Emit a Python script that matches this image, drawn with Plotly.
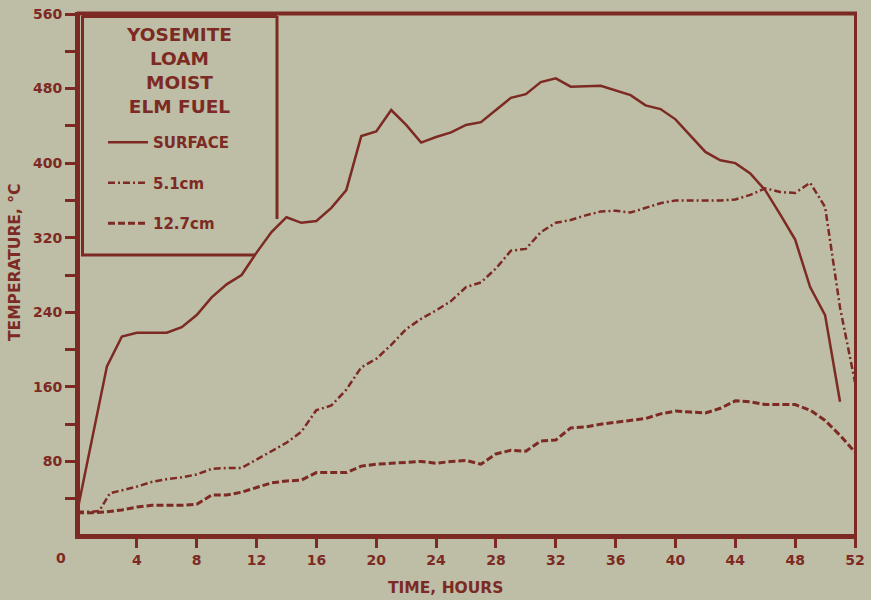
import plotly.graph_objects as go

# Temperature records (deg C) by elapsed time (hours)
surface_hours = [0, 2, 3, 4, 6, 7, 8, 9, 10, 11, 12, 13, 14, 15, 16, 17, 18, 19, 20,
                 21, 22, 23, 24, 25, 26, 27, 28, 29, 30, 31, 32, 33, 35, 36, 37, 38,
                 39, 40, 41, 42, 43, 44, 45, 46, 47, 48, 49, 50, 51]
surface_temp = [25, 182, 214, 218, 218, 224, 237, 256, 270, 280, 304, 326, 342, 336, 338,
                352, 371, 429, 434, 457, 441, 422, 428, 433, 441, 444, 457, 470, 474, 487,
                491, 482, 483, 478, 473, 462, 458, 447, 429, 412, 403, 400, 389, 371, 345,
                318, 267, 237, 144]

depth51_hours = [0, 1, 1.5, 2.2, 3, 4, 5, 6, 7, 8, 9, 10, 11, 12, 13, 14, 15, 16, 17, 18,
                 19, 20, 21, 22, 23, 24, 25, 26, 27, 28, 29, 30, 31, 32, 33, 34, 35, 36,
                 37, 38, 39, 40, 41, 42, 43, 44, 45, 46, 47, 48, 49, 50, 51, 52]
depth51_temp = [26, 26, 27, 46, 49, 53, 58, 61, 63, 66, 72, 73, 73, 82, 91, 100, 112, 135,
                140, 157, 181, 190, 205, 222, 233, 242, 252, 267, 272, 287, 306, 308, 326,
                336, 339, 344, 348, 349, 347, 352, 357, 360, 360, 360, 360, 361, 366, 373,
                369, 368, 379, 353, 245, 165]

depth127_hours = list(range(0, 53))
depth127_temp = [25, 25, 26, 28, 31, 33, 33, 33, 34, 44, 44, 47, 52, 57, 59, 60, 68, 68,
                 68, 75, 77, 78, 79, 80, 78, 80, 81, 77, 88, 92, 91, 102, 103, 116, 117,
                 120, 122, 124, 126, 131, 134, 133, 132, 137, 145, 144, 141, 141, 141, 135,
                 124, 108, 90]

x_tick_vals = [4, 8, 12, 16, 20, 24, 28, 32, 36, 40, 44, 48, 52]
y_tick_vals = [40, 80, 120, 160, 200, 240, 280, 320, 360, 400, 440, 480, 520, 560]
y_tick_text = ["", "80", "", "160", "", "240", "", "320", "", "400", "", "480", "", "560"]

INK = "#7c2a23"
PAPER = "#bebda5"
FONT = "DejaVu Sans"

# plot-area geometry in pixels
W, H = 871, 600
L, T, R, B = 77, 14, 16, 64
PW, PH = W - L - R, H - T - B


def fx(px):
    return (px - L) / PW


def fy(py):
    return (T + PH - py) / PH


fig = go.Figure()

fig.add_trace(go.Scatter(
    x=surface_hours, y=surface_temp, mode="lines", name="SURFACE",
    legendgroup="a", line=dict(color=INK, width=2.5)))
fig.add_trace(go.Scatter(
    x=depth51_hours, y=depth51_temp, mode="lines", name="5.1cm",
    legendgroup="b", line=dict(color=INK, width=2.5, dash="7px,3px,2px,3px")))
fig.add_trace(go.Scatter(
    x=depth127_hours, y=depth127_temp, mode="lines", name="12.7cm",
    legendgroup="c", line=dict(color=INK, width=3, dash="7px,3px")))


def seg(x0, y0, x1, y1, w):
    return dict(type="line", xref="paper", yref="paper",
                x0=fx(x0), y0=fy(y0), x1=fx(x1), y1=fy(y1),
                line=dict(color=INK, width=w), layer="above")


shapes = [
    # frame
    seg(77, 13.5, 857, 13.5, 4),
    seg(855.5, 13, 855.5, 538, 3),
    seg(77.5, 12, 77.5, 539, 5),
    seg(75, 536.5, 857, 536.5, 5),
    # key box (open at the lower right corner)
    seg(82, 16.5, 277, 16.5, 3),
    seg(82.5, 16, 82.5, 256, 3),
    seg(277, 16, 277, 219, 3),
    seg(81, 255, 255, 255, 3),
]

annotations = [
    dict(text="YOSEMITE<br>LOAM<br>MOIST<br>ELM FUEL", x=fx(179), y=fy(70),
         xref="paper", yref="paper", showarrow=False, xanchor="center",
         yanchor="middle", align="center",
         font=dict(family=FONT, size=18.5, color=INK, weight="bold")),
    dict(text="0", x=fx(61), y=fy(558), xref="paper", yref="paper", showarrow=False,
         xanchor="center", yanchor="middle",
         font=dict(family=FONT, size=14, color=INK, weight="bold")),
    dict(text="TIME, HOURS", x=fx(445), y=fy(588), xref="paper", yref="paper",
         showarrow=False, xanchor="center", yanchor="middle",
         font=dict(family=FONT, size=15.5, color=INK, weight="bold")),
    dict(text="TEMPERATURE, °C", x=fx(15), y=fy(263), xref="paper", yref="paper",
         showarrow=False, xanchor="center", yanchor="middle", textangle=-90,
         font=dict(family=FONT, size=15.5, color=INK, weight="bold")),
]

fig.update_layout(
    width=W, height=H,
    margin=dict(l=L, r=R, t=T, b=B, pad=0, autoexpand=False),
    paper_bgcolor=PAPER, plot_bgcolor=PAPER,
    showlegend=True,
    legend=dict(x=fx(103), y=fy(126), xanchor="left", yanchor="top",
                bgcolor="rgba(0,0,0,0)", borderwidth=0,
                font=dict(family=FONT, size=15, color=INK, weight="bold"),
                itemwidth=40, tracegroupgap=18, traceorder="grouped"),
    shapes=shapes,
    annotations=annotations,
)

fig.update_xaxes(
    range=[0, 52], showgrid=False, zeroline=False, showline=False,
    tickmode="array", tickvals=x_tick_vals,
    ticks="outside", ticklen=11, tickwidth=3, tickcolor=INK,
    tickfont=dict(family=FONT, size=14, color=INK, weight="bold"),
)
fig.update_yaxes(
    range=[0, 560], showgrid=False, zeroline=False, showline=False,
    tickmode="array", tickvals=y_tick_vals, ticktext=y_tick_text,
    ticks="outside", ticklen=11, tickwidth=3, tickcolor=INK,
    tickfont=dict(family=FONT, size=14, color=INK, weight="bold"),
)

fig.write_html("out.html")
